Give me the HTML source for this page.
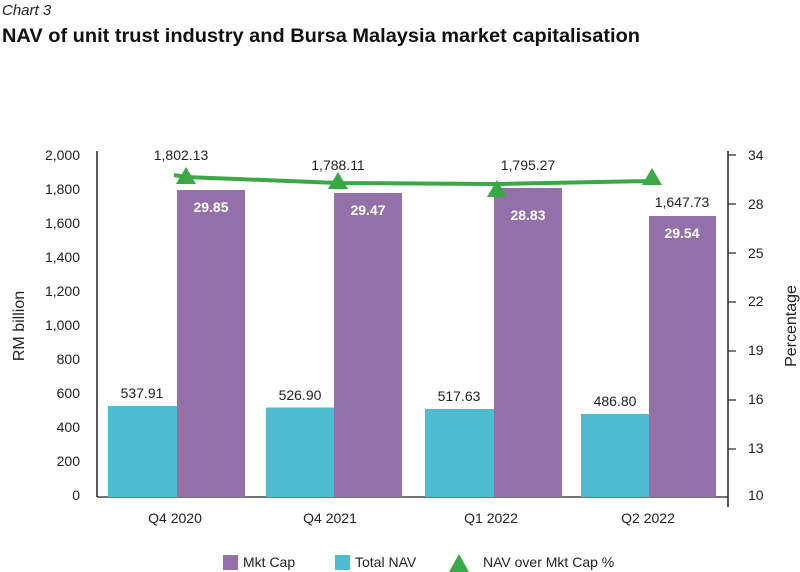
<!DOCTYPE html>
<html><head><meta charset="utf-8"><style>
body{margin:0;background:#fff;}
svg{display:block;font-family:"Liberation Sans",sans-serif;}
</style></head><body>
<svg width="800" height="572" viewBox="0 0 800 572">
<text x="2" y="15" font-size="15" font-style="italic" fill="#222">Chart 3</text>
<text x="2" y="42" font-size="19" font-weight="bold" fill="#111" textLength="638" lengthAdjust="spacingAndGlyphs">NAV of unit trust industry and Bursa Malaysia market capitalisation</text>
<g font-size="14" fill="#222" text-anchor="end">
<text x="80" y="160">2,000</text><text x="80" y="194">1,800</text><text x="80" y="228">1,600</text><text x="80" y="262">1,400</text><text x="80" y="296">1,200</text><text x="80" y="330">1,000</text><text x="80" y="364">800</text><text x="80" y="398">600</text><text x="80" y="432">400</text><text x="80" y="466">200</text><text x="80" y="500">0</text>
</g>
<g font-size="14" fill="#222">
<text x="748" y="160">34</text><text x="748" y="209">28</text><text x="748" y="258">25</text><text x="748" y="306">22</text><text x="748" y="355">19</text><text x="748" y="404">16</text><text x="748" y="453">13</text><text x="748" y="500">10</text>
</g>
<text transform="translate(24,326) rotate(-90)" font-size="16" fill="#222" text-anchor="middle">RM billion</text>
<text transform="translate(796,326) rotate(-90)" font-size="16" fill="#222" text-anchor="middle">Percentage</text>
<line x1="97" y1="151" x2="97" y2="497" stroke="#222" stroke-width="1.5"/>
<line x1="97" y1="497" x2="728" y2="497" stroke="#222" stroke-width="1.2"/>
<line x1="728" y1="151" x2="728" y2="507" stroke="#222" stroke-width="1.5"/>
<g stroke="#222" stroke-width="1.2">
<line x1="728" y1="155" x2="736" y2="155"/><line x1="728" y1="204" x2="736" y2="204"/><line x1="728" y1="253" x2="736" y2="253"/><line x1="728" y1="302" x2="736" y2="302"/><line x1="728" y1="351" x2="736" y2="351"/><line x1="728" y1="400" x2="736" y2="400"/><line x1="728" y1="449" x2="736" y2="449"/>
</g>
<g fill="#4dbcd1">
<rect x="108" y="406" width="69" height="91"/>
<rect x="266" y="407.5" width="68" height="89.5"/>
<rect x="425" y="409" width="69" height="88"/>
<rect x="581" y="414" width="68" height="83"/>
</g>
<g fill="#9470a8">
<rect x="177" y="190" width="68" height="307"/>
<rect x="334" y="193" width="68" height="304"/>
<rect x="494" y="188" width="68" height="309"/>
<rect x="649" y="216" width="67" height="281"/>
</g>
<g font-size="14" fill="#222" text-anchor="middle">
<text x="142" y="398">537.91</text><text x="300" y="400">526.90</text><text x="459" y="401">517.63</text><text x="615" y="406">486.80</text>
<text x="181" y="160">1,802.13</text><text x="338" y="170">1,788.11</text><text x="528" y="170">1,795.27</text><text x="682" y="207">1,647.73</text>
</g>
<g font-size="14" fill="#fff" font-weight="bold" text-anchor="middle">
<text x="211" y="212">29.85</text><text x="368" y="215">29.47</text><text x="528" y="220">28.83</text><text x="682" y="238">29.54</text>
</g>
<polyline points="174,175 186,177 338,183 497,184 652,181" fill="none" stroke="#3aa845" stroke-width="4"/>
<g fill="#3aa845">
<polygon points="186,167 176,184 196,184"/>
<polygon points="338,172 328,189 348,189"/>
<polygon points="497,180 487,197 507,197"/>
<polygon points="652,168 642,185 662,185"/>
</g>
<g font-size="14" fill="#222" text-anchor="middle">
<text x="175" y="523">Q4 2020</text><text x="330" y="523">Q4 2021</text><text x="491" y="523">Q1 2022</text><text x="648" y="523">Q2 2022</text>
</g>
<rect x="223" y="555" width="15" height="15" fill="#9470a8"/>
<text x="243" y="567" font-size="14" fill="#222">Mkt Cap</text>
<rect x="335" y="555" width="15" height="15" fill="#4dbcd1"/>
<text x="355" y="567" font-size="14" fill="#222">Total NAV</text>
<polygon points="459,554 449,572 469,572" fill="#3aa845"/>
<text x="483" y="567" font-size="14" fill="#222">NAV over Mkt Cap %</text>
</svg>
</body></html>
